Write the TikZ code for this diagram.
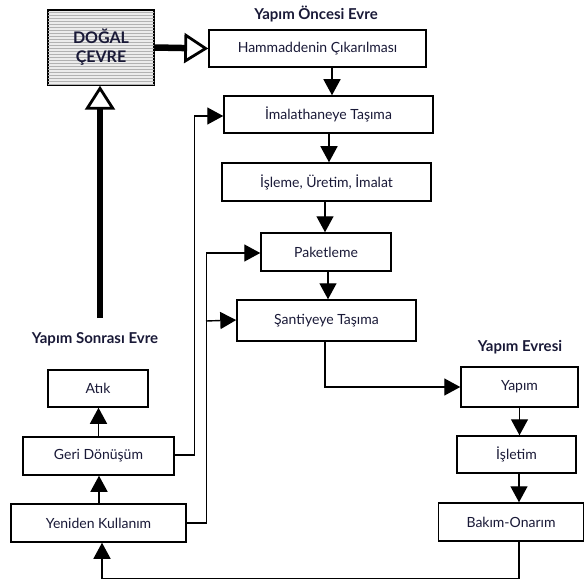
\documentclass[tikz,border=0pt]{standalone}
\usepackage{fontspec}
\setmainfont{Lato}
\usetikzlibrary{arrows.meta,patterns}
\definecolor{inkblue}{RGB}{25,25,55}
\begin{document}
\begin{tikzpicture}[x=1pt, y=-1pt, font=\fontsize{14}{16}\selectfont, text=inkblue,
		box/.style={draw=black, line width=1.5pt, fill=white, inner sep=0pt, align=center},
		evre/.style={font=\fontsize{15}{16}\selectfont\bfseries},
		arr/.style={draw=black, line width=1.4pt, -{Triangle[length=16pt, width=17pt]}},
		bigarr/.style={draw=black, line width=6.5pt, -{Triangle[open, length=24pt, width=30pt, line width=2.8pt]}}]
		\useasboundingbox (0,0) rectangle (586,580);
		% kutular
		\node[box, minimum width=106, minimum height=75, fill=gray!15,
			postaction={pattern=horizontal lines, pattern color=gray!60},
			font=\fontsize{16}{19}\selectfont\bfseries] (dogal) at (101,47.5) {DOĞAL\\ÇEVRE};
		\node[box, minimum width=217, minimum height=37] (hamm) at (317.5,48.5) {Hammaddenin Çıkarılması};
		\node[box, minimum width=209, minimum height=37] (imal) at (328.5,114.5) {İmalathaneye Taşıma};
		\node[box, minimum width=209, minimum height=38] (isleme) at (326.5,182) {İşleme, Üretim, İmalat};
		\node[box, minimum width=130, minimum height=38] (paket) at (326,252) {Paketleme};
		\node[box, minimum width=179, minimum height=41] (santiye) at (326.5,320.5) {Şantiyeye Taşıma};
		\node[box, minimum width=117, minimum height=40] (yapim) at (519.5,387) {Yapım};
		\node[box, minimum width=119, minimum height=37] (isletim) at (516.5,454.5) {İşletim};
		\node[box, minimum width=145, minimum height=38] (bakim) at (511,522) {Bakım-Onarım};
		\node[box, minimum width=100, minimum height=37] (atik) at (98,388.5) {Atık};
		\node[box, minimum width=151, minimum height=38] (geri) at (98.5,456) {Geri Dönüşüm};
		\node[box, minimum width=175, minimum height=38] (yeniden) at (98.5,523) {Yeniden Kullanım};
		% evre basliklari
		\node[evre] (oncesi) at (316,14) {Yapım Öncesi Evre};
		\node[evre] (evresi) at (520,347) {Yapım Evresi};
		\node[evre] (sonrasi) at (95,339) {Yapım Sonrası Evre};
		% kalin oklar
		\coordinate (dip) at (100,318);
		\draw[bigarr] (dogal.east) -- (hamm.west);
		\draw[bigarr] (dip) -- (dip |- dogal.south);
		% uretim zinciri
		\draw[arr] ([xshift=14.5]hamm.south) -- ([xshift=14.5]hamm.south |- imal.north);
		\draw[arr] ([xshift=0.5]imal.south) -- ([xshift=0.5]imal.south |- isleme.north);
		\draw[arr] ([xshift=-1.5]isleme.south) -- ([xshift=-1.5]isleme.south |- paket.north);
		\draw[arr] ([xshift=2]paket.south) -- ([xshift=2]paket.south |- santiye.north);
		\draw[arr] ([xshift=-1.5]santiye.south) |- (yapim.west);
		\draw[arr] (yapim.south) -- (yapim.south |- isletim.north);
		\draw[arr] ([xshift=2.5]isletim.south) -- ([xshift=2.5]isletim.south |- bakim.north);
		% yapim sonrasi
		\draw[arr] ([xshift=0.5]yeniden.south |- yeniden.north) -- ([xshift=0.5]yeniden.south |- geri.south);
		\draw[arr] (geri.north) -- (geri.north |- atik.south);
		% geri donusler
		\draw[arr] ([xshift=8]bakim.south) -- ++(0,37) -| ([xshift=3.5]yeniden.south);
		\draw[arr] ([yshift=1]geri.east) -- ++(20,0) |- ([yshift=-1.5]imal.west);
		\draw[arr] (yeniden.east) -- ++(20,0) |- ([yshift=-1]paket.west);
		\draw[arr] (206,321) -- ([yshift=0.5]santiye.west);
\end{tikzpicture}
\end{document}
